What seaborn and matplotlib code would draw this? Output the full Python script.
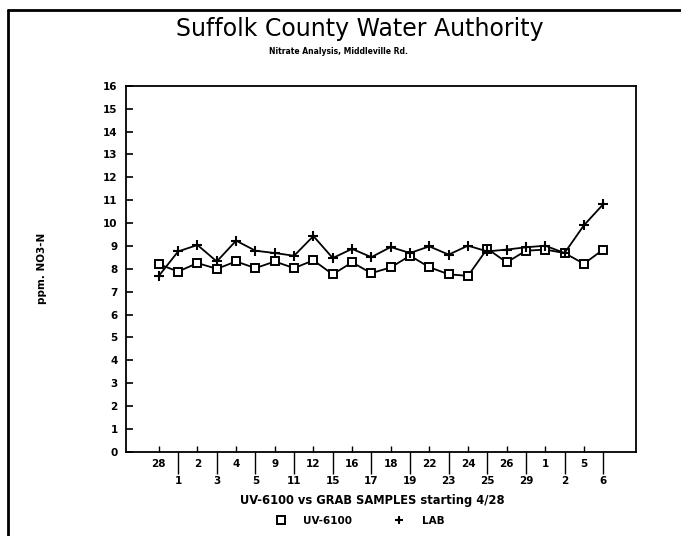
import numpy as np
import pandas as pd
import seaborn as sns
from matplotlib import pyplot as plt
from matplotlib.lines import Line2D

# sample dates (day of month) starting 4/28
dates = ['28', '1', '2', '3', '4', '5', '9', '11', '12', '15', '16', '17',
         '18', '19', '22', '23', '24', '25', '26', '29', '1', '2', '5', '6']
uv_6100 = [8.20, 7.88, 8.25, 8.00, 8.32, 8.03, 8.32, 8.03, 8.37, 7.76, 8.28, 7.81,
           8.06, 8.57, 8.07, 7.76, 7.69, 8.88, 8.28, 8.79, 8.84, 8.69, 8.22, 8.84]
lab = [7.69, 8.76, 9.04, 8.32, 9.23, 8.79, 8.69, 8.57, 9.43, 8.47, 8.87, 8.51,
       8.95, 8.69, 8.98, 8.62, 9.01, 8.76, 8.84, 8.94, 9.01, 8.69, 9.90, 10.82]
y_ticks = np.arange(0, 17, 1)

pos = np.arange(len(dates))
df = pd.DataFrame({'pos': np.concatenate([pos, pos]),
                   'ppm': uv_6100 + lab,
                   'series': ['UV-6100'] * len(pos) + ['LAB'] * len(pos)})

sns.set_style('ticks', {'axes.edgecolor': 'black', 'text.color': 'black',
                        'axes.labelcolor': 'black', 'xtick.color': 'black',
                        'ytick.color': 'black'})
plt.rcParams['font.family'] = ['DejaVu Sans']

fig = plt.figure(figsize=(6.81, 5.36), dpi=100)
ax = fig.add_axes([0.185, 0.157, 0.749, 0.683])

sns.lineplot(data=df[df.series == 'UV-6100'], x='pos', y='ppm', ax=ax, color='black',
             lw=1.3, marker='s', markersize=5.5, markerfacecolor='white',
             markeredgecolor='black', markeredgewidth=1.4)
sns.lineplot(data=df[df.series == 'LAB'], x='pos', y='ppm', ax=ax, color='black',
             lw=1.3, marker='+', markersize=7, markeredgecolor='black',
             markeredgewidth=1.5)

ax.set_xlim(-1.7, len(dates) - 1 + 1.7)
ax.set_ylim(0, 16)
ax.set_yticks(y_ticks)
ax.set_yticklabels([str(t) for t in y_ticks], fontsize=7.5, fontweight='bold')
ax.tick_params(axis='y', direction='in', length=5, width=1.2, pad=6)

# staggered date labels: odd ones below a long tick, even ones above
ax.set_xticks(pos[1::2], [dates[i] for i in pos[1::2]], fontsize=7.5, fontweight='bold')
ax.set_xticks(pos[0::2], [dates[i] for i in pos[0::2]], minor=True, fontsize=7.5,
              fontweight='bold')
ax.tick_params(axis='x', which='major', direction='out', length=16, width=1.0, pad=1.5)
ax.tick_params(axis='x', which='minor', direction='in', length=4, width=1.0, pad=5)

for s in ax.spines.values():
    s.set_linewidth(1.3)

ax.set_xlabel('UV-6100 vs GRAB SAMPLES starting 4/28', fontsize=8.3, fontweight='bold',
              labelpad=7)
ax.xaxis.set_label_coords(0.482, -0.115)
ax.set_ylabel('ppm. NO3-N', fontsize=7.5, fontweight='bold', labelpad=40)

fig.text(0.529, 0.945, 'Suffolk County Water Authority', ha='center', va='center',
         fontsize=17)
fig.text(0.497, 0.903, 'Nitrate Analysis, Middleville Rd.', ha='center', va='center',
         fontsize=5.5, fontweight='bold')

handles = [Line2D([], [], ls='none', marker='s', markersize=5.5, markerfacecolor='white',
                  markeredgecolor='black', markeredgewidth=1.4),
           Line2D([], [], ls='none', marker='+', markersize=6, color='black',
                  markeredgewidth=1.5)]
fig.legend(handles, ['UV-6100', 'LAB'], loc='center', bbox_to_anchor=(0.525, 0.028),
           ncol=2, frameon=False, prop={'size': 7.5, 'weight': 'bold'},
           columnspacing=3.5, handletextpad=1.2)

# page border of the scanned sheet
fig.add_artist(Line2D([0.012, 1.0], [0.981, 0.981], color='black', lw=2))
fig.add_artist(Line2D([0.012, 0.012], [0.0, 0.981], color='black', lw=2))

fig.savefig('out.png', dpi=100)
